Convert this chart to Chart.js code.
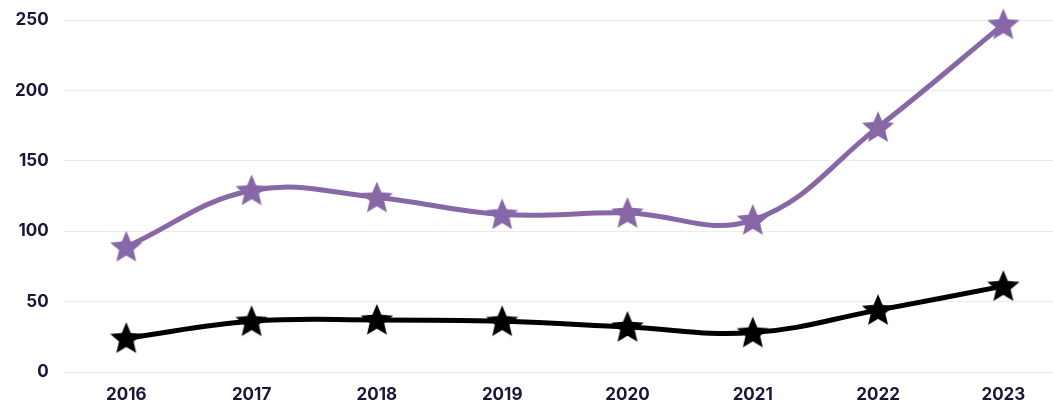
<!DOCTYPE html>
<html>
<head>
<meta charset="utf-8">
<script src="https://cdn.jsdelivr.net/npm/chart.js@4.4.1/dist/chart.umd.min.js"></script>
<style>
  html, body { margin: 0; padding: 0; background: #fff; overflow: hidden; width: 1053px; height: 408px; }
  /* the original plot is cut off a bit at the right and top edges */
  #wrap { width: 1066px; height: 413px; margin-top: -5px; }
</style>
</head>
<body>
<div id="wrap"><canvas id="chart"></canvas></div>
<script>
// data
const years = ['2016', '2017', '2018', '2019', '2020', '2021', '2022', '2023'];
const purpleSeries = [89, 129, 124, 112, 113, 108, 174, 247];
const blackSeries = [24, 36, 37, 36, 32, 28, 44, 61];
const yTicks = [0, 50, 100, 150, 200, 250];

const textColor = '#1b1538';
const purple = '#8767a6';

// filled star used as point style
function makeStar(color, size) {
    const c = document.createElement('canvas');
    c.width = size; c.height = size;
    const ctx = c.getContext('2d');
    const cx = size / 2, cy = size / 2 + 1;
    const outer = size / 2 - 1, inner = outer * 0.45;
    ctx.beginPath();
    for (let i = 0; i < 10; i++) {
        const r = i % 2 === 0 ? outer : inner;
        const a = -Math.PI / 2 + i * Math.PI / 5;
        const x = cx + r * Math.cos(a), y = cy + r * Math.sin(a);
        if (i === 0) ctx.moveTo(x, y); else ctx.lineTo(x, y);
    }
    ctx.closePath();
    ctx.fillStyle = color;
    ctx.fill();
    return c;
}

const purpleStar = makeStar(purple, 36);
const blackStar = makeStar('#000000', 36);

new Chart(document.getElementById('chart'), {
    type: 'line',
    data: {
        labels: years,
        datasets: [
            {
                data: purpleSeries,
                borderColor: purple,
                borderWidth: 5,
                tension: 0.4,
                pointStyle: purpleStar,
                pointRadius: 18,
                clip: false
            },
            {
                data: blackSeries,
                borderColor: '#000000',
                borderWidth: 5,
                tension: 0.4,
                pointStyle: blackStar,
                pointRadius: 18,
                clip: false
            }
        ]
    },
    options: {
        responsive: true,
        maintainAspectRatio: false,
        animation: false,
        layout: { autoPadding: false, padding: 0 },
        plugins: { legend: { display: false }, tooltip: { enabled: false } },
        scales: {
            x: {
                offset: true,
                grid: { display: false, drawTicks: false },
                border: { display: false },
                ticks: { color: textColor, font: { family: 'Inter', size: 17, weight: 'bold' }, padding: 13 },
                afterFit: function(scale) { scale.height = 36; }
            },
            y: {
                min: 0,
                max: 250,
                afterBuildTicks: function(axis) {
                    axis.ticks = yTicks.map(function(v) { return { value: v }; });
                },
                grid: { color: '#ebebef', lineWidth: 1, drawTicks: false },
                border: { display: false },
                ticks: { color: textColor, font: { family: 'Inter', size: 17, weight: 'bold' }, padding: 15 }
            }
        }
    }
});
</script>
</body>
</html>
